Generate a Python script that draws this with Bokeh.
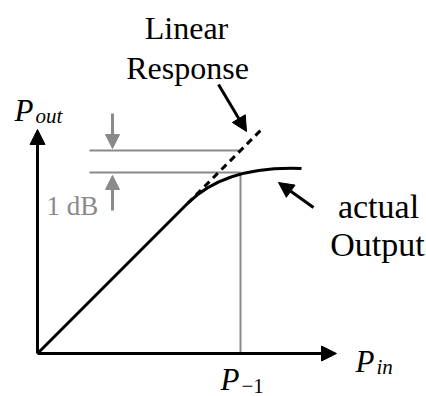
from bokeh.plotting import figure
from bokeh.models import Range1d, Arrow, NormalHead, ColumnDataSource
from bokeh.core.properties import value
from bokeh.embed import file_html
from bokeh.resources import INLINE

# --- diagram values (input power on x, output power on y, arbitrary units) ---
axis_x_end = 299          # end of the P_in axis
axis_y_end = 224          # end of the P_out axis

lin_in = [0, 150]         # linear (small-signal) region, gain = 1
lin_out = [0, 150]
ext_in = [150, 224]       # extrapolated linear response
ext_out = [150, 224]

# compressed output: quadratic curve start / control / end
comp_start = (150, 150)
comp_ctrl = (188, 188)
comp_end = (264, 185)

p_1db = 203               # input at the 1 dB compression point
out_linear = 203          # extrapolated linear output at p_1db
out_actual = 181          # actual output at p_1db
ref_left = 52             # left end of the reference lines
marker_x = 75             # x of the 1 dB marker arrows

BLACK = "#000000"
GRAY = "#8a8a8a"
SERIF = value("Times")

p = figure(width=426, height=396, output_backend="svg", toolbar_location=None,
           x_range=Range1d(-37, 389), y_range=Range1d(-43, 353),
           x_axis_type=None, y_axis_type=None, min_border=0,
           outline_line_color=None, background_fill_color="white")
p.grid.visible = False

# reference lines at the 1 dB point
p.segment(x0=[ref_left, ref_left, p_1db], y0=[out_linear, out_actual, 0],
          x1=[p_1db, p_1db, p_1db], y1=[out_linear, out_actual, out_actual],
          line_color=GRAY, line_width=2)

# linear response and its extrapolation
p.line(lin_in, lin_out, line_color=BLACK, line_width=3)
p.line(ext_in, ext_out, line_color=BLACK, line_width=3, line_dash="7 5")

# actual (compressed) output
p.quadratic(x0=[comp_start[0]], y0=[comp_start[1]], cx=[comp_ctrl[0]], cy=[comp_ctrl[1]],
            x1=[comp_end[0]], y1=[comp_end[1]], line_color=BLACK, line_width=3)

# axes as arrows
axes_src = ColumnDataSource(dict(xs=[0, 0], ys=[0, 0], xe=[axis_x_end, 0], ye=[0, axis_y_end]))
p.add_layout(Arrow(source=axes_src, x_start="xs", y_start="ys", x_end="xe", y_end="ye",
                   line_color=BLACK, line_width=3,
                   end=NormalHead(size=15, fill_color=BLACK, line_color=BLACK, line_width=1)))

# 1 dB marker arrows
mark_src = ColumnDataSource(dict(xs=[marker_x, marker_x], ys=[out_linear + 37, out_actual - 38],
                                 xe=[marker_x, marker_x], ye=[out_linear + 2, out_actual - 3]))
p.add_layout(Arrow(source=mark_src, x_start="xs", y_start="ys", x_end="xe", y_end="ye",
                   line_color=GRAY, line_width=3,
                   end=NormalHead(size=14, fill_color=GRAY, line_color=GRAY, line_width=1)))

# annotation pointers
ptr_src = ColumnDataSource(dict(xs=[181, 276], ys=[269, 146], xe=[209, 241], ye=[222, 171]))
p.add_layout(Arrow(source=ptr_src, x_start="xs", y_start="ys", x_end="xe", y_end="ye",
                   line_color=BLACK, line_width=3,
                   end=NormalHead(size=15, fill_color=BLACK, line_color=BLACK, line_width=1)))

# plain labels
p.text(x=[149, 150], y=[326, 286], text=["Linear", "Response"], text_font=SERIF,
       text_font_size="32px", text_align="center", text_baseline="alphabetic", text_color=BLACK)
p.text(x=[341, 340], y=[147, 109], text=["actual", "Output"], text_font=SERIF,
       text_font_size="34px", text_align="center", text_baseline="alphabetic", text_color=BLACK)
p.text(x=[9], y=[148], text=["1 dB"], text_font=SERIF, text_font_size="27px",
       text_align="left", text_baseline="alphabetic", text_color=GRAY)

# symbol labels: italic P with subscripts
p.text(x=[-23, 318, 183], y=[243, -8, -26], text=["P", "P", "P"], text_font=SERIF,
       text_font_style="italic", text_font_size="31px", text_align="left",
       text_baseline="alphabetic", text_color=BLACK)
p.text(x=[-2, 339], y=[238, -13], text=["out", "in"], text_font=SERIF,
       text_font_style="italic", text_font_size="21px", text_align="left",
       text_baseline="alphabetic", text_color=BLACK)
p.text(x=[204], y=[-32], text=["\u22121"], text_font=SERIF,
       text_font_size="21px", text_align="left", text_baseline="alphabetic", text_color=BLACK)

open("out.html", "w").write(file_html(p, INLINE))
